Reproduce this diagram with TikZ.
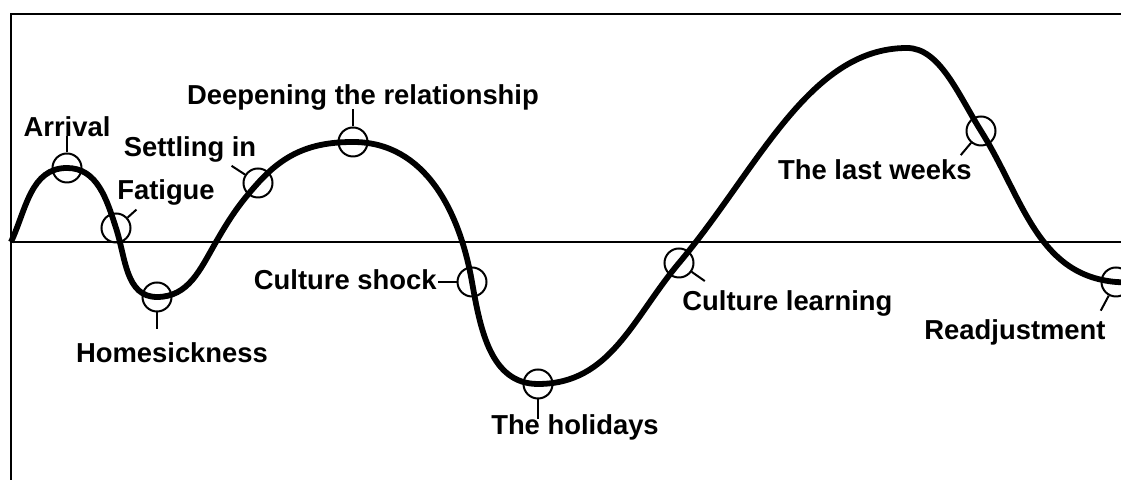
\documentclass[tikz,border=0pt]{standalone}
\usepackage{fontspec}
\setmainfont{Liberation Sans}

\begin{document}
\begin{tikzpicture}[x=0.5pt, y=0.5pt,
  wave/.style={line width=2.9pt},
  ring/.style={circle, draw, line width=1pt, minimum size=14.5pt, inner sep=0pt},
  stem/.style={line width=1pt},
  lbl/.style={font=\fontsize{13.7}{16}\selectfont\bfseries, inner sep=0pt, anchor=base},
]
  \useasboundingbox (0,0) rectangle (1121,480);
  \clip (0,0) rectangle (1121,480);
  % frame and time axis
  \draw[line width=1.4pt] (11,0) -- (11,466) -- (1130,466);
  \draw[line width=1.4pt] (11,238) -- (1130,238);
  % the curve, with its marked stages
  \draw[wave] (11,238)
    to[out=65,in=180] (67,312) node[ring] (arrival) {}
    to[out=0,in=108] (116,252) node[ring] (fatigue) {}
    to[out=288,in=180] (157,183) node[ring] (homesick) {}
    to[out=0,in=240] (216,238)
    to[out=60,in=228] (258,297) node[ring] (settling) {}
    to[out=48,in=180] (353,338) node[ring] (deepening) {}
    to[out=0,in=100] (472,198) node[ring] (shock) {}
    to[out=280,in=180] (538,96) node[ring] (holidays) {}
    to[out=0,in=230] (679,217) node[ring] (learning) {}
    to[out=50,in=180,in looseness=0.8] (907,432)
    to[out=0,in=122,out looseness=0.75] (981,349) node[ring] (lastweeks) {}
    to[out=302,in=175] (1116,198) node[ring] (readjust) {}
    -- (1135,197);
  % stems
  \draw[stem] (arrival.north) -- ++(0,16);
  \draw[stem] (fatigue.42) -- ++(42:12);
  \draw[stem] (homesick.south) -- ++(0,-17);
  \draw[stem] (settling.147) -- ++(147:16);
  \draw[stem] (deepening.north) -- ++(0,17);
  \draw[stem] (shock.west) -- ++(-19,0);
  \draw[stem] (holidays.south) -- ++(0,-20);
  \draw[stem] (learning.-35) -- ++(-35:16);
  \draw[stem] (lastweeks.230) -- ++(230:16);
  \draw[stem] (readjust.242) -- ++(242:17);
  % labels
  \node[lbl] (arrival-txt) at (67,343) {Arrival};
  \node[lbl] (fatigue-txt) at (166,280) {Fatigue};
  \node[lbl] (homesick-txt) at (172,117) {Homesickness};
  \node[lbl] (settling-txt) at (190,323) {Settling in};
  \node[lbl] (deepening-txt) at (363,375) {Deepening the relationship};
  \node[lbl, anchor=base east] (shock-txt) at (437,190) {Culture shock};
  \node[lbl] (holidays-txt) at (575,45) {The holidays};
  \node[lbl, anchor=base west] (learning-txt) at (682,169) {Culture learning};
  \node[lbl, anchor=base east] (lastweeks-txt) at (972,300) {The last weeks};
  \node[lbl] (readjust-txt) at (1015,140) {Readjustment};
\end{tikzpicture}
\end{document}
